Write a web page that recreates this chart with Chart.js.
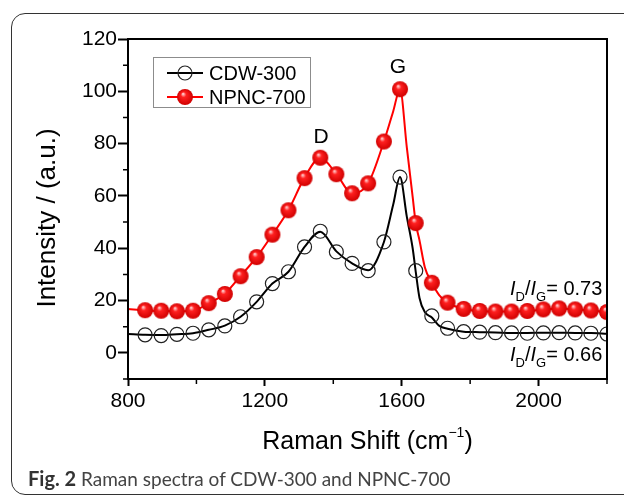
<!DOCTYPE html>
<html>
<head>
  <title>Raman spectra of CDW-300 and NPNC-700</title>
  <style>
    body {
      margin: 0;
      padding: 0;
      background-color: #fff;
      width: 624px;
      height: 496px;
      overflow: hidden;
      position: relative;
    }

    .frame {
      position: absolute;
      left: 11px;
      top: 13px;
      width: 660px;
      height: 480px;
      border: 1.5px solid #333;
      border-radius: 14px;
    }

    #chart-box {
      position: absolute;
      left: 0;
      top: 0;
      width: 624px;
      height: 496px;
    }

    .caption {
      position: absolute;
      left: 28px;
      top: 466px;
      font-family: Lato, "Open Sans", sans-serif;
      font-size: 19px;
      line-height: 24px;
      color: #444;
      white-space: nowrap;
    }

    .caption b {
      color: #333;
      font-size: 20px;
    }
  </style>
</head>
<body>
  <div class="frame"></div>
  <div id="chart-box">
    <canvas id="raman"></canvas>
  </div>
  <div class="caption"><b>Fig. 2</b> Raman spectra of CDW-300 and NPNC-700</div>

  <script src="https://cdn.jsdelivr.net/npm/chart.js"></script>
  <script>
    // spectra (line)
    const shiftLine = [800, 850, 897, 943, 990, 1036, 1083, 1129, 1176, 1222, 1269, 1316, 1362, 1409, 1455, 1502, 1548, 1575, 1595, 1615, 1632, 1641, 1652, 1668, 1688, 1710, 1734, 1781, 1828, 1874, 1921, 1967, 2014, 2060, 2107, 2153, 2200];
    const cdwLine = [7.2, 6.9, 6.8, 7.1, 7.5, 8.8, 10.4, 13.8, 19.5, 26.5, 31.0, 40.5, 46.3, 38.8, 34.2, 31.6, 42.4, 56.6, 67.2, 52.0, 40.0, 31.0, 21.0, 15.5, 13.5, 10.3, 9.2, 8.1, 7.9, 7.8, 7.6, 7.6, 7.7, 7.7, 7.6, 7.6, 7.3];
    const npncLine = [16.8, 16.2, 16.0, 15.9, 16.1, 19.0, 22.6, 29.4, 36.6, 45.2, 54.6, 67.0, 74.6, 68.4, 61.0, 64.8, 80.8, 92.3, 100.8, 78.5, 59.6, 49.6, 43.0, 32.5, 26.8, 22.0, 19.2, 16.8, 16.0, 15.8, 15.8, 16.0, 16.6, 17.0, 16.6, 16.2, 15.6];

    // symbols (every n-th point)
    const shiftMark = [850, 897, 943, 990, 1036, 1083, 1129, 1176, 1222, 1269, 1316, 1362, 1409, 1455, 1502, 1548, 1595, 1641, 1688, 1734, 1781, 1828, 1874, 1921, 1967, 2014, 2060, 2107, 2153, 2200];
    const cdwMark = [6.9, 6.6, 7.1, 7.5, 8.8, 10.3, 13.8, 19.5, 26.5, 31.0, 40.5, 46.5, 38.6, 34.2, 31.4, 42.4, 67.2, 31.4, 14.1, 9.4, 8.1, 7.9, 7.7, 7.6, 7.5, 7.6, 7.7, 7.6, 7.5, 7.2];
    const npncMark = [16.3, 16.1, 15.9, 16.1, 19.0, 22.5, 29.3, 36.6, 45.2, 54.5, 66.8, 74.6, 68.3, 61.0, 64.8, 80.8, 100.8, 49.6, 26.8, 19.2, 16.8, 16.0, 15.8, 15.8, 16.0, 16.6, 17.0, 16.6, 16.2, 15.6];

    const seriesNames = ["CDW-300", "NPNC-700"];
    const xTicks = [800, 1200, 1600, 2000];
    const yTicks = [0, 20, 40, 60, 80, 100, 120];
    const xMinor = [1000, 1400, 1800, 2200];
    const yMinor = [-10, 10, 30, 50, 70, 90, 110];

    const FONT = '"Liberation Sans", Arial, sans-serif';

    function pairs(xs, ys) {
      return xs.map((x, i) => ({ x: x, y: ys[i] }));
    }

    // shaded red ball used as the NPNC symbol
    function makeSphere(r) {
      const c = document.createElement("canvas");
      c.width = c.height = 2 * r + 2;
      const g = c.getContext("2d");
      const m = r + 1;
      const grad = g.createRadialGradient(m - r * 0.25, m - r * 0.4, r * 0.05, m, m, r);
      grad.addColorStop(0, "#ffd0d0");
      grad.addColorStop(0.3, "#ff2020");
      grad.addColorStop(1, "#d00000");
      g.fillStyle = grad;
      g.beginPath();
      g.arc(m, m, r, 0, Math.PI * 2);
      g.fill();
      return c;
    }
    const sphere = makeSphere(8);

    function drawRatio(ctx, x, y, value) {
      const big = "20px " + FONT;
      const sub = "13px " + FONT;
      const parts = [
        ["italic " + big, "I", 0],
        [sub, "D", 6],
        [big, "/", 0],
        ["italic " + big, "I", 0],
        [sub, "G", 6],
        [big, "= " + value, 0]
      ];
      ctx.textAlign = "left";
      ctx.textBaseline = "alphabetic";
      parts.forEach(p => {
        ctx.font = p[0];
        ctx.fillText(p[1], x, y + p[2]);
        x += ctx.measureText(p[1]).width;
      });
    }

    const decor = {
      id: "decor",
      afterDraw(chart) {
        const ctx = chart.ctx;
        const a = chart.chartArea;
        const xs = chart.scales.x;
        const ys = chart.scales.y;
        ctx.save();

        // box round the plot
        ctx.strokeStyle = "#000";
        ctx.lineWidth = 2;
        ctx.strokeRect(a.left, a.top, a.right - a.left, a.bottom - a.top);

        // minor ticks
        ctx.lineWidth = 1.5;
        ctx.beginPath();
        xMinor.forEach(v => {
          const px = xs.getPixelForValue(v);
          ctx.moveTo(px, a.bottom);
          ctx.lineTo(px, a.bottom + 5);
        });
        yMinor.forEach(v => {
          const py = ys.getPixelForValue(v);
          ctx.moveTo(a.left, py);
          ctx.lineTo(a.left - 5, py);
        });
        ctx.stroke();

        // legend
        ctx.strokeStyle = "#8c8c8c";
        ctx.lineWidth = 1;
        ctx.strokeRect(153.5, 57.5, 157, 50);
        const rows = [73, 97];
        rows.forEach((ry, i) => {
          ctx.strokeStyle = i === 0 ? "#000" : "#ff0000";
          ctx.lineWidth = 2;
          ctx.beginPath();
          ctx.moveTo(167, ry);
          ctx.lineTo(203, ry);
          ctx.stroke();
          if (i === 0) {
            ctx.lineWidth = 1.2;
            ctx.strokeStyle = "#222";
            ctx.beginPath();
            ctx.arc(185, ry, 7, 0, Math.PI * 2);
            ctx.stroke();
          } else {
            ctx.drawImage(sphere, 185 - sphere.width / 2, ry - sphere.height / 2);
          }
          ctx.fillStyle = "#000";
          ctx.font = "20px " + FONT;
          ctx.textAlign = "left";
          ctx.textBaseline = "middle";
          ctx.fillText(seriesNames[i], 209, ry + 1);
        });

        // peak labels
        ctx.fillStyle = "#000";
        ctx.font = "21px " + FONT;
        ctx.textAlign = "center";
        ctx.textBaseline = "middle";
        ctx.fillText("D", 321, 137);
        ctx.fillText("G", 398, 67);

        drawRatio(ctx, 510, 295, "0.73");
        drawRatio(ctx, 510, 361, "0.66");

        // axis titles
        ctx.font = "26px " + FONT;
        ctx.textBaseline = "middle";
        ctx.textAlign = "center";
        ctx.save();
        ctx.translate(48, 218);
        ctx.rotate(-Math.PI / 2);
        ctx.fillText("Intensity / (a.u.)", 0, 0);
        ctx.restore();

        const t1 = "Raman Shift (cm";
        const t2 = "\u22121";
        const t3 = ")";
        ctx.font = "25px " + FONT;
        const w1 = ctx.measureText(t1).width;
        const w3 = ctx.measureText(t3).width;
        ctx.font = "14px " + FONT;
        const w2 = ctx.measureText(t2).width;
        let tx = (a.left + a.right) / 2 - (w1 + w2 + w3) / 2;
        ctx.textAlign = "left";
        ctx.textBaseline = "alphabetic";
        ctx.font = "25px " + FONT;
        ctx.fillText(t1, tx, 449);
        tx += w1;
        ctx.font = "14px " + FONT;
        ctx.fillText(t2, tx, 437);
        tx += w2;
        ctx.font = "25px " + FONT;
        ctx.fillText(t3, tx, 449);

        ctx.restore();
      }
    };

    const ctx = document.getElementById("raman").getContext("2d");
    new Chart(ctx, {
      type: "line",
      data: {
        datasets: [
          {
            label: seriesNames[1] + " symbols",
            data: pairs(shiftMark, npncMark),
            showLine: false,
            pointStyle: sphere,
            pointRadius: 8
          },
          {
            label: seriesNames[1],
            data: pairs(shiftLine, npncLine),
            borderColor: "#ff0000",
            borderWidth: 2,
            pointRadius: 0,
            cubicInterpolationMode: "monotone"
          },
          {
            label: seriesNames[0] + " symbols",
            data: pairs(shiftMark, cdwMark),
            showLine: false,
            pointStyle: "circle",
            pointRadius: 7,
            pointBorderWidth: 1.2,
            pointBorderColor: "#222",
            pointBackgroundColor: "rgba(0,0,0,0)"
          },
          {
            label: seriesNames[0],
            data: pairs(shiftLine, cdwLine),
            borderColor: "#000",
            borderWidth: 2,
            pointRadius: 0,
            cubicInterpolationMode: "monotone"
          }
        ]
      },
      options: {
        responsive: true,
        maintainAspectRatio: false,
        animation: false,
        layout: { padding: { top: 39, right: 17, left: 0, bottom: 0 } },
        plugins: {
          legend: { display: false },
          tooltip: { enabled: false }
        },
        scales: {
          x: {
            type: "linear",
            min: 800,
            max: 2200,
            ticks: {
              color: "#000",
              padding: 3,
              font: { family: FONT, size: 21 },
              callback: v => String(v)
            },
            afterBuildTicks: s => { s.ticks = xTicks.map(v => ({ value: v })); },
            afterFit: s => { s.height = 117; },
            grid: { drawOnChartArea: false, tickLength: 7, tickWidth: 2, tickColor: "#000" },
            border: { color: "#000", width: 2 }
          },
          y: {
            min: -10,
            max: 120,
            ticks: {
              color: "#000",
              padding: 1,
              font: { family: FONT, size: 21 },
              callback: v => String(v)
            },
            afterBuildTicks: s => { s.ticks = yTicks.map(v => ({ value: v })); },
            afterFit: s => { s.width = 128; },
            grid: { drawOnChartArea: false, tickLength: 10, tickWidth: 2, tickColor: "#000" },
            border: { color: "#000", width: 2 }
          }
        }
      },
      plugins: [decor]
    });
  </script>
</body>
</html>
